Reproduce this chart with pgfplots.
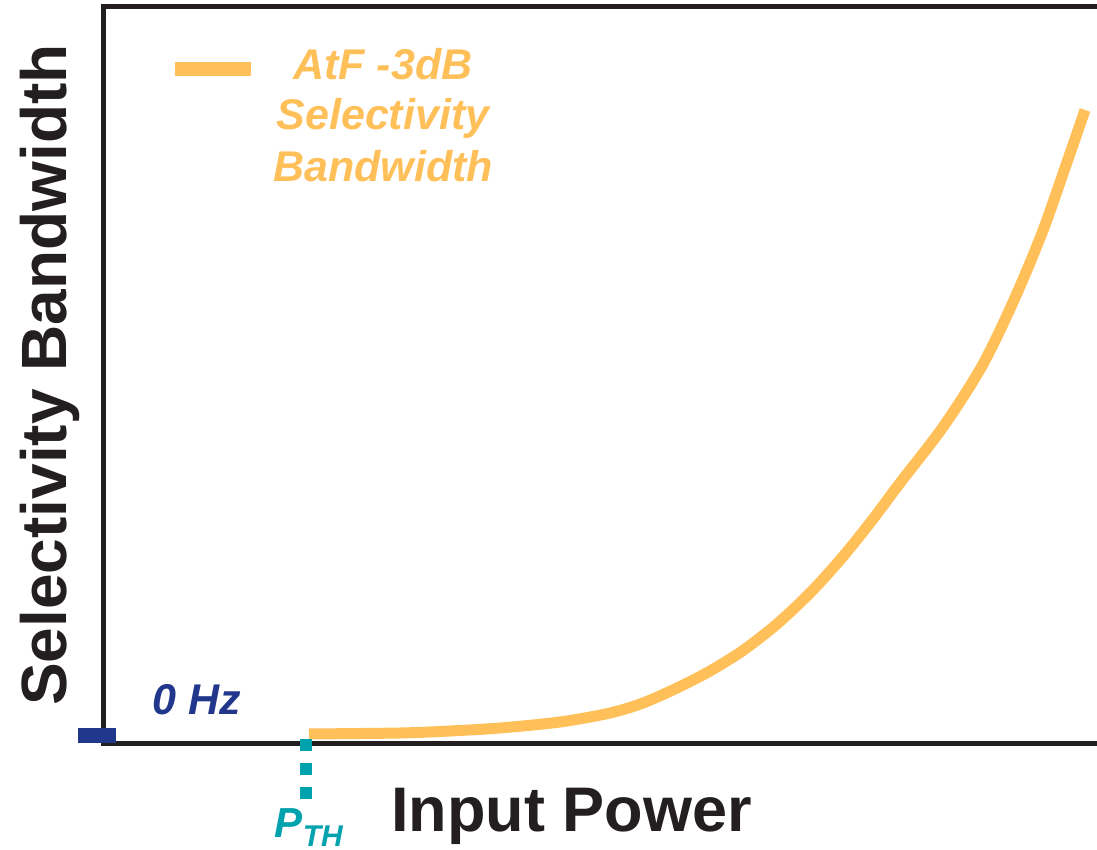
\documentclass[border=0pt]{standalone}
\usepackage{fontspec}
\setmainfont{Liberation Sans}
\usepackage{pgfplots}
\pgfplotsset{compat=1.18}

\definecolor{axblack}{RGB}{35,31,32}
\definecolor{curveorange}{RGB}{255,192,90}
\definecolor{zeroblue}{RGB}{33,55,140}
\definecolor{thteal}{RGB}{0,162,174}

\begin{document}
\begin{tikzpicture}
\begin{axis}[
    width=496.75pt, height=368.5pt, scale only axis,
    xmin=0, xmax=99.35, ymin=0, ymax=73.7,
    hide axis, clip=false,
]
% open frame: top, left and bottom only
\draw[axblack, line width=2.75pt, line join=miter]
    (rel axis cs:1,1) -- (rel axis cs:0,1) -- (rel axis cs:0,0) -- (rel axis cs:1,0);

% AtF -3dB selectivity bandwidth vs input power
\addplot[curveorange, line width=5.5pt, smooth, line cap=butt] coordinates {
    (20.55, 0.95)
    (29.65, 1.05)
    (34.65, 1.25)
    (39.65, 1.55)
    (45.65, 2.15)
    (50.65, 3.05)
    (53.95, 4.05)
    (57.35, 5.55)
    (60.65, 7.25)
    (63.95, 9.30)
    (67.35, 11.95)
    (70.65, 15.05)
    (73.65, 18.35)
    (76.65, 22.05)
    (79.65, 26.05)
    (83.95, 31.65)
    (87.85, 37.75)
    (91.05, 44.35)
    (93.85, 51.05)
    (96.15, 57.55)
    (98.15, 63.35)
};

% threshold power marker
\addplot[thteal, line width=6pt, dash pattern=on 6pt off 6pt] coordinates {
    (20.25, 0.45) (20.25, -5.55)
};

% 0 Hz marker on the y axis
\addplot[zeroblue, line width=7.5pt] coordinates {
    (-2.52, 0.77) (1.25, 0.77)
};

\coordinate (O) at (rel axis cs:0,0);
\coordinate (TR) at (rel axis cs:1,1);
\end{axis}

\node[anchor=base, text=axblack, font=\fontsize{31.5}{37}\selectfont\bfseries]
    at ([shift={(234pt,-44.25pt)}]O) {Input Power};
\node[anchor=base, rotate=90, text=axblack, font=\fontsize{32}{38}\selectfont\bfseries]
    at ([shift={(-18.25pt,184.25pt)}]O) {Selectivity Bandwidth};

% legend
\draw[curveorange, line width=7pt]
    ([shift={(35.75pt,337.25pt)}]O) -- ([shift={(73.6pt,337.25pt)}]O);
\begin{scope}[every node/.style={anchor=base, text=curveorange,
        font=\fontsize{21.5}{25.5}\selectfont\bfseries\itshape}]
\node at ([shift={(139.75pt,331.75pt)}]O) {AtF -3dB};
\node at ([shift={(139.75pt,306.75pt)}]O) {Selectivity};
\node at ([shift={(139.75pt,280.9pt)}]O) {Bandwidth};
\end{scope}

\node[anchor=base, text=zeroblue, font=\fontsize{21.5}{25}\selectfont\bfseries\itshape]
    at ([shift={(46.6pt,14.25pt)}]O) {0 Hz};
\node[anchor=base west, inner sep=0pt, text=thteal, font=\bfseries\itshape]
    at ([shift={(85.5pt,-47.25pt)}]O)
    {\fontsize{21}{25}\selectfont P\raisebox{-4.35pt}{\fontsize{15}{18}\selectfont TH}};

\pgfresetboundingbox
\path[use as bounding box] ([shift={(-51.75pt,-53.25pt)}]O) rectangle ([yshift=3.25pt]TR);
\end{tikzpicture}
\end{document}
